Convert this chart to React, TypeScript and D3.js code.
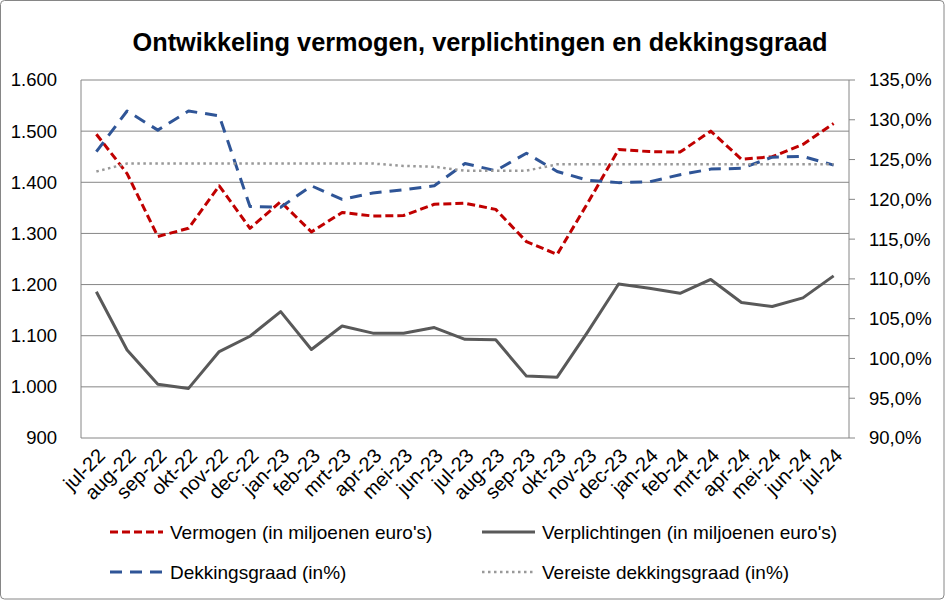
import React from "react";
import * as d3 from "d3";

const months = ["jul-22","aug-22","sep-22","okt-22","nov-22","dec-22","jan-23","feb-23","mrt-23","apr-23","mei-23","jun-23","jul-23","aug-23","sep-23","okt-23","nov-23","dec-23","jan-24","feb-24","mrt-24","apr-24","mei-24","jun-24","jul-24"];
const vermogen = [1494, 1417, 1294, 1310, 1393, 1310, 1362, 1303, 1341, 1334, 1335, 1357, 1359, 1347, 1284, 1259, 1360, 1464, 1460, 1459, 1500, 1445, 1450, 1474, 1515];
const verplichtingen = [1186, 1072, 1005, 997, 1069, 1099, 1147, 1073, 1119, 1105, 1105, 1116, 1093, 1092, 1021, 1019, 1108, 1201, 1193, 1183, 1210, 1165, 1157, 1174, 1217];
const dekkingsgraad = [126.0, 131.1, 128.7, 131.1, 130.5, 119.1, 119.0, 121.7, 120.0, 120.8, 121.2, 121.7, 124.5, 123.6, 125.8, 123.5, 122.4, 122.1, 122.2, 123.1, 123.8, 123.9, 125.3, 125.4, 124.3];
const vereiste = [123.5, 124.5, 124.5, 124.5, 124.5, 124.5, 124.5, 124.5, 124.5, 124.5, 124.2, 124.1, 123.6, 123.6, 123.6, 124.4, 124.4, 124.4, 124.4, 124.4, 124.4, 124.4, 124.4, 124.4, 124.4];
const leftTicks = [900, 1000, 1100, 1200, 1300, 1400, 1500, 1600];
const rightTicks = [90, 95, 100, 105, 110, 115, 120, 125, 130, 135];
const title = "Ontwikkeling vermogen, verplichtingen en dekkingsgraad";
const legendLabels = ["Vermogen (in miljoenen euro's)", "Verplichtingen (in miljoenen euro's)", "Dekkingsgraad (in%)", "Vereiste dekkingsgraad (in%)"];

const W = 945, H = 600;
const plot = { left: 81, right: 849, top: 80, bottom: 438 };
const FONT = "'Liberation Sans', Arial, sans-serif";

export default function App() {
  const x = d3.scalePoint<string>().domain(months).range([plot.left, plot.right]).padding(0.5);
  const yL = d3.scaleLinear().domain([900, 1600]).range([plot.bottom, plot.top]);
  const yR = d3.scaleLinear().domain([90, 135]).range([plot.bottom, plot.top]);
  const lineL = d3.line<number>().x((_, i) => x(months[i]) as number).y((d) => yL(d));
  const lineR = d3.line<number>().x((_, i) => x(months[i]) as number).y((d) => yR(d));
  const fmtL = (v: number) => d3.format(",")(v).replace(/,/g, ".");
  const fmtR = (v: number) => v.toFixed(1).replace(".", ",") + "%";

  const series = [
    { d: lineL(vermogen), stroke: "#C00000", w: 3, dash: "8,4" },
    { d: lineL(verplichtingen), stroke: "#595959", w: 3, dash: undefined },
    { d: lineR(dekkingsgraad), stroke: "#2F5597", w: 3, dash: "12,8" },
    { d: lineR(vereiste), stroke: "#999999", w: 2.5, dash: "2.5,3.5" },
  ];
  const legendPos = [
    { x: 110, y: 532 },
    { x: 482, y: 532 },
    { x: 110, y: 572 },
    { x: 482, y: 572 },
  ];

  return (
    <div style={{ position: "absolute", left: 0, top: 0 }}>
      <svg width={W} height={H} style={{ display: "block", background: "#fff" }}>
        <rect x={0.5} y={0.5} width={W - 1.5} height={H - 1.5} rx={4} fill="#fff" stroke="#868686" strokeWidth={1} />
        <text x={480} y={51} textAnchor="middle" fontFamily={FONT} fontWeight="bold" fontSize={26} textLength={695} lengthAdjust="spacingAndGlyphs" fill="#000">{title}</text>
        {leftTicks.map((t) => (
          <g key={t}>
            <line x1={plot.left} x2={plot.right} y1={yL(t)} y2={yL(t)} stroke="#868686" strokeWidth={1} />
            <text x={57} y={yL(t)} dy="0.35em" textAnchor="end" fontFamily={FONT} fontSize={18.5} fill="#000">{fmtL(t)}</text>
          </g>
        ))}
        <line x1={plot.left} x2={plot.left} y1={plot.top} y2={plot.bottom} stroke="#868686" strokeWidth={1} />
        <line x1={plot.right} x2={plot.right} y1={plot.top} y2={plot.bottom} stroke="#868686" strokeWidth={1} />
        {rightTicks.map((t) => (
          <g key={t}>
            <line x1={plot.right} x2={plot.right + 6} y1={yR(t)} y2={yR(t)} stroke="#868686" strokeWidth={1} />
            <text x={869} y={yR(t)} dy="0.35em" textAnchor="start" fontFamily={FONT} fontSize={18.5} fill="#000">{fmtR(t)}</text>
          </g>
        ))}
        {months.map((m) => (
          <text key={m} transform={`translate(${(x(m) as number) + 5},${452}) rotate(-45)`} dy="0.35em" textAnchor="end" fontFamily={FONT} fontSize={20} fill="#000">{m}</text>
        ))}
        {series.map((s, i) => (
          <path key={i} d={s.d || ""} fill="none" stroke={s.stroke} strokeWidth={s.w} strokeDasharray={s.dash} strokeLinejoin="round" />
        ))}
        {series.map((s, i) => (
          <g key={"lg" + i}>
            <line x1={legendPos[i].x} x2={legendPos[i].x + 53} y1={legendPos[i].y} y2={legendPos[i].y} stroke={s.stroke} strokeWidth={s.w} strokeDasharray={s.dash} />
            <text x={legendPos[i].x + 60} y={legendPos[i].y} dy="0.35em" fontFamily={FONT} fontSize={19} fill="#000">{legendLabels[i]}</text>
          </g>
        ))}
      </svg>
    </div>
  );
}
